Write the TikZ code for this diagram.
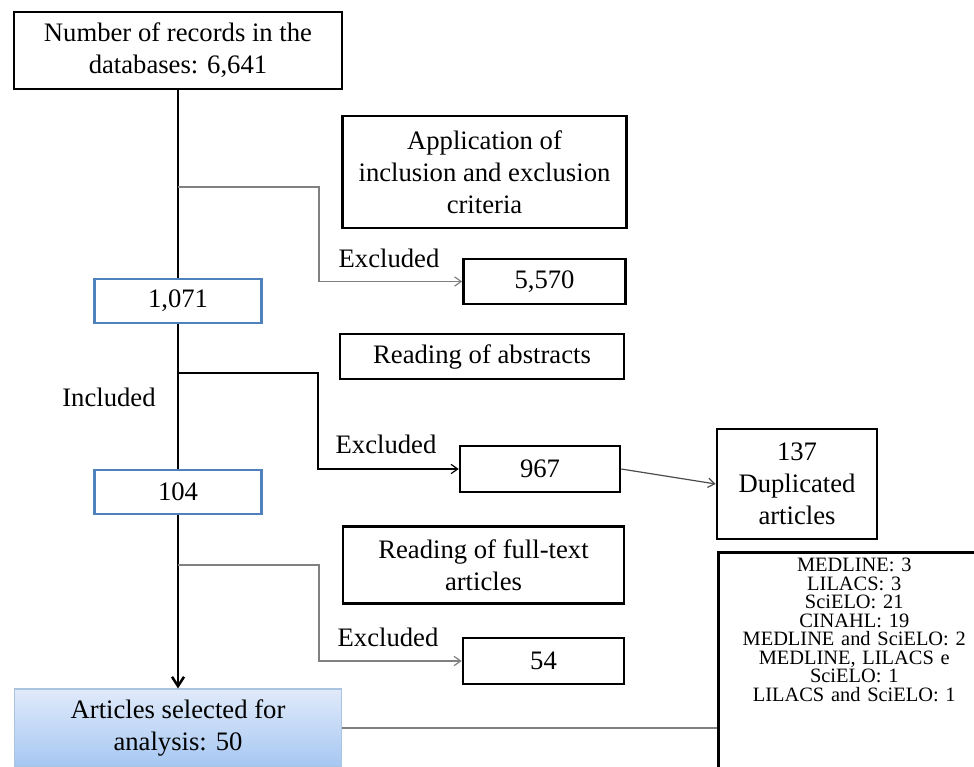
\documentclass[tikz,border=0pt]{standalone}
\usepackage{fontspec}
\setmainfont{Liberation Serif}
\usepackage{tikz}
\usetikzlibrary{arrows.meta}
\definecolor{boxblue}{RGB}{79,129,189}
\definecolor{linegray}{RGB}{128,128,128}
\definecolor{selTop}{RGB}{224,234,250}
\definecolor{selBottom}{RGB}{166,199,242}
\definecolor{selBorder}{RGB}{170,195,225}

\begin{document}
\begin{tikzpicture}[x=0.75pt,y=-0.75pt,
  box/.style={draw=black,line width=1.9pt,align=center,inner sep=0pt,font=\fontsize{20}{24}\selectfont},
  bluebox/.style={box,draw=boxblue,line width=1.6pt},
  label/.style={font=\fontsize{20}{24}\selectfont},
  mainline/.style={line width=1.9pt},
  branch/.style={draw=linegray,line width=0.9pt,-{Straight Barb[length=5pt,width=7pt]}}]
\newcommand{\pix}{0.75pt}
\useasboundingbox (0,0) rectangle (974,767);

% boxes of the main column
\node[box,minimum width=328*\pix,minimum height=77*\pix] (top) at (178,50.5) {Number of records in the\\databases: 6,641};
\node[bluebox,minimum width=167*\pix,minimum height=44*\pix] (n1071) at (178,301) {1,071};
\node[bluebox,minimum width=167*\pix,minimum height=44*\pix] (n104) at (178,492) {104};
\node[box,draw=selBorder,line width=0.8pt,top color=selTop,bottom color=selBottom,
  minimum width=327*\pix,minimum height=78*\pix] (sel) at (178,728) {Articles selected for\\analysis: 50};

% stages
\node[box,minimum width=284*\pix,minimum height=112*\pix] (crit) at (484.5,172) {Application of\\inclusion and exclusion\\criteria};
\node[box,minimum width=284*\pix,minimum height=45*\pix] (abs) at (482,356.5) {Reading of abstracts};
\node[box,minimum width=281*\pix,minimum height=77*\pix] (full) at (483.5,565) {Reading of full-text\\articles};

% excluded
\node[box,minimum width=162*\pix,minimum height=45*\pix] (ex1) at (544.5,281.5) {5,570};
\node[box,minimum width=160*\pix,minimum height=46*\pix] (ex2) at (540,469) {967};
\node[box,minimum width=161*\pix,minimum height=46*\pix] (ex3) at (543.5,661) {54};
\node[box,minimum width=160*\pix,minimum height=110*\pix] (dup) at (797,484) {137\\Duplicated\\articles};
\node[box,anchor=north west,inner ysep=6*\pix,text width=272*\pix,text depth=260*\pix,
  font=\fontsize{15.3}{13.9}\selectfont] (db) at (717,551)
  {MEDLINE: 3\\LILACS: 3\\SciELO: 21\\CINAHL: 19\\MEDLINE and SciELO: 2\\MEDLINE, LILACS e\\SciELO: 1\\LILACS and SciELO: 1};

\node[label] (inc) at (109,397) {Included};
\node[label] (exl1) at (389,258) {Excluded};
\node[label] (exl2) at (386,444) {Excluded};
\node[label] (exl3) at (388,637) {Excluded};

% main line
\draw[mainline] (top) -- (n1071);
\draw[mainline] (n1071) -- (n104);
\draw[mainline,-{Straight Barb[length=7pt,width=9pt]}] (n104) -- (sel);

% branches
\coordinate (b1) at (178,187);
\coordinate (k1) at (319,187);
\coordinate (b2) at (178,373);
\coordinate (k2) at (318,373);
\coordinate (b3) at (178,565);
\coordinate (k3) at (319,565);
\draw[branch] (b1) -- (k1) |- (ex1.west);
\draw[branch,draw=black] (b2) -- (k2) |- (ex2.west);
\draw[branch] (b3) -- (k3) |- (ex3.west);
\draw[branch,draw=black!70] (ex2.east) -- (dup.west);
\draw[draw=linegray,line width=1pt] (sel.east) -- (sel.east -| db.west);
\end{tikzpicture}
\end{document}
